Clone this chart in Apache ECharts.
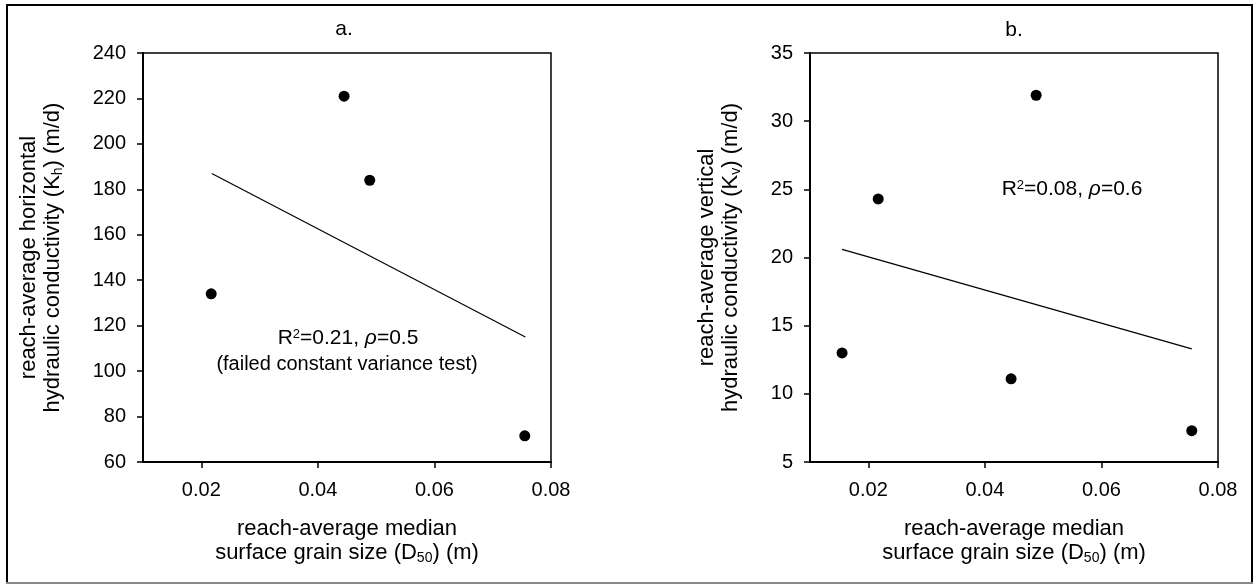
<!DOCTYPE html>
<html>
<head>
<meta charset="utf-8">
<script src="https://cdn.jsdelivr.net/npm/echarts@6/dist/echarts.min.js"></script>
<style>html,body{margin:0;padding:0;background:#fff;}#c{width:1257px;height:586px;}</style>
</head>
<body>
<div id="c"></div>
<script>
// ---- data ----
const xTickValues = [0.02, 0.04, 0.06, 0.08];
// panel a: horizontal K vs D50
const aD50 = [0.0217, 0.0445, 0.0489, 0.0755];
const aKh = [134, 221, 184, 71.5];
const aFitX = [0.0218, 0.0756];
const aFitY = [187, 115];
// panel b: vertical K vs D50
const bD50 = [0.0155, 0.0217, 0.0445, 0.0488, 0.0755];
const bKv = [13.0, 24.3, 11.1, 31.9, 7.3];
const bFitX = [0.0155, 0.0755];
const bFitY = [20.6, 13.3];

const FONT = '"Liberation Sans", Arial, sans-serif';
const pairs = (xs, ys) => xs.map((x, i) => [x, ys[i]]);

const rich = {
  sub: { fontSize: 14, fontFamily: FONT, color: '#000', verticalAlign: 'bottom', lineHeight: 9 },
  sup: { fontSize: 13, fontFamily: FONT, color: '#000', verticalAlign: 'top', lineHeight: 12 },
  it: { fontSize: 21, fontFamily: FONT, color: '#000', fontStyle: 'italic' }
};

function xAxis(gi) {
  return {
    type: 'value', gridIndex: gi, min: 0.01, max: 0.08,
    name: 'reach-average median\nsurface grain size (D{sub|50}) (m)',
    nameLocation: 'middle', nameGap: 55, nameMoveOverlap: false,
    nameTextStyle: { fontSize: 22, lineHeight: 24, fontFamily: FONT, color: '#000', rich: rich },
    axisLine: { show: true, onZero: false, lineStyle: { color: '#000', width: 2 } },
    axisTick: { show: true, inside: false, length: 6, customValues: xTickValues, lineStyle: { color: '#000', width: 1.5 } },
    axisLabel: { customValues: xTickValues, margin: 18, fontSize: 20, fontFamily: FONT, color: '#000',
      formatter: v => v.toFixed(2) },
    splitLine: { show: false }
  };
}
function yAxis(gi, min, max, interval, name, gap) {
  return {
    type: 'value', gridIndex: gi, min: min, max: max, interval: interval,
    name: name, nameLocation: 'middle', nameGap: gap, nameMoveOverlap: false,
    nameTextStyle: { fontSize: 22, lineHeight: 24, fontFamily: FONT, color: '#000', rich: rich },
    axisLine: { show: true, onZero: false, lineStyle: { color: '#000', width: 2 } },
    axisTick: { show: true, inside: false, length: 6, lineStyle: { color: '#000', width: 1.5 } },
    axisLabel: { margin: 17, fontSize: 20, fontFamily: FONT, color: '#000' },
    splitLine: { show: false }
  };
}

const chart = echarts.init(document.getElementById('c'), null, { renderer: 'canvas' });
chart.setOption({
  backgroundColor: '#fff',
  animation: false,
  grid: [
    { left: 143, top: 53, width: 408, height: 409, show: true, borderColor: '#000', borderWidth: 1.5, backgroundColor: 'transparent', outerBoundsMode: 'none', containLabel: false },
    { left: 810, top: 53, width: 408, height: 409, show: true, borderColor: '#000', borderWidth: 1.5, backgroundColor: 'transparent', outerBoundsMode: 'none', containLabel: false }
  ],
  xAxis: [xAxis(0), xAxis(1)],
  yAxis: [
    yAxis(0, 60, 240, 20, 'reach-average horizontal\nhydraulic conductivity (K{sub|h}) (m/d)', 78),
    yAxis(1, 5, 35, 5, 'reach-average vertical\nhydraulic conductivity (K{sub|v}) (m/d)', 67)
  ],
  series: [
    { type: 'scatter', xAxisIndex: 0, yAxisIndex: 0, data: pairs(aD50, aKh), symbol: 'circle', symbolSize: 11, itemStyle: { color: '#000', opacity: 1 } },
    { type: 'line', xAxisIndex: 0, yAxisIndex: 0, data: pairs(aFitX, aFitY), showSymbol: false, symbol: 'none', lineStyle: { color: '#000', width: 1.2 } },
    { type: 'scatter', xAxisIndex: 1, yAxisIndex: 1, data: pairs(bD50, bKv), symbol: 'circle', symbolSize: 11, itemStyle: { color: '#000', opacity: 1 } },
    { type: 'line', xAxisIndex: 1, yAxisIndex: 1, data: pairs(bFitX, bFitY), showSymbol: false, symbol: 'none', lineStyle: { color: '#000', width: 1.2 } }
  ],
  graphic: [
    { type: 'polyline', shape: { points: [[7, 583], [7, 5], [1252, 5], [1252, 583]] }, style: { fill: 'none', stroke: '#000', lineWidth: 2 }, silent: true },
    { type: 'line', shape: { x1: 6, y1: 583, x2: 1253, y2: 583 }, style: { stroke: '#8a8a8a', lineWidth: 2 }, silent: true },
    { type: 'text', x: 344, y: 29, style: { text: 'a.', font: '21px ' + FONT, fill: '#000', align: 'center', verticalAlign: 'middle' } },
    { type: 'text', x: 1014, y: 30, style: { text: 'b.', font: '21px ' + FONT, fill: '#000', align: 'center', verticalAlign: 'middle' } },
    { type: 'text', x: 348, y: 338, style: { text: 'R{sup|2}=0.21, {it|ρ}=0.5', fontSize: 21, fontFamily: FONT, fill: '#000', align: 'center', verticalAlign: 'middle', rich: rich } },
    { type: 'text', x: 347, y: 364, style: { text: '(failed constant variance test)', fontSize: 20, fontFamily: FONT, fill: '#000', align: 'center', verticalAlign: 'middle' } },
    { type: 'text', x: 1072, y: 189, style: { text: 'R{sup|2}=0.08, {it|ρ}=0.6', fontSize: 21, fontFamily: FONT, fill: '#000', align: 'center', verticalAlign: 'middle', rich: rich } }
  ]
});
</script>
</body>
</html>
